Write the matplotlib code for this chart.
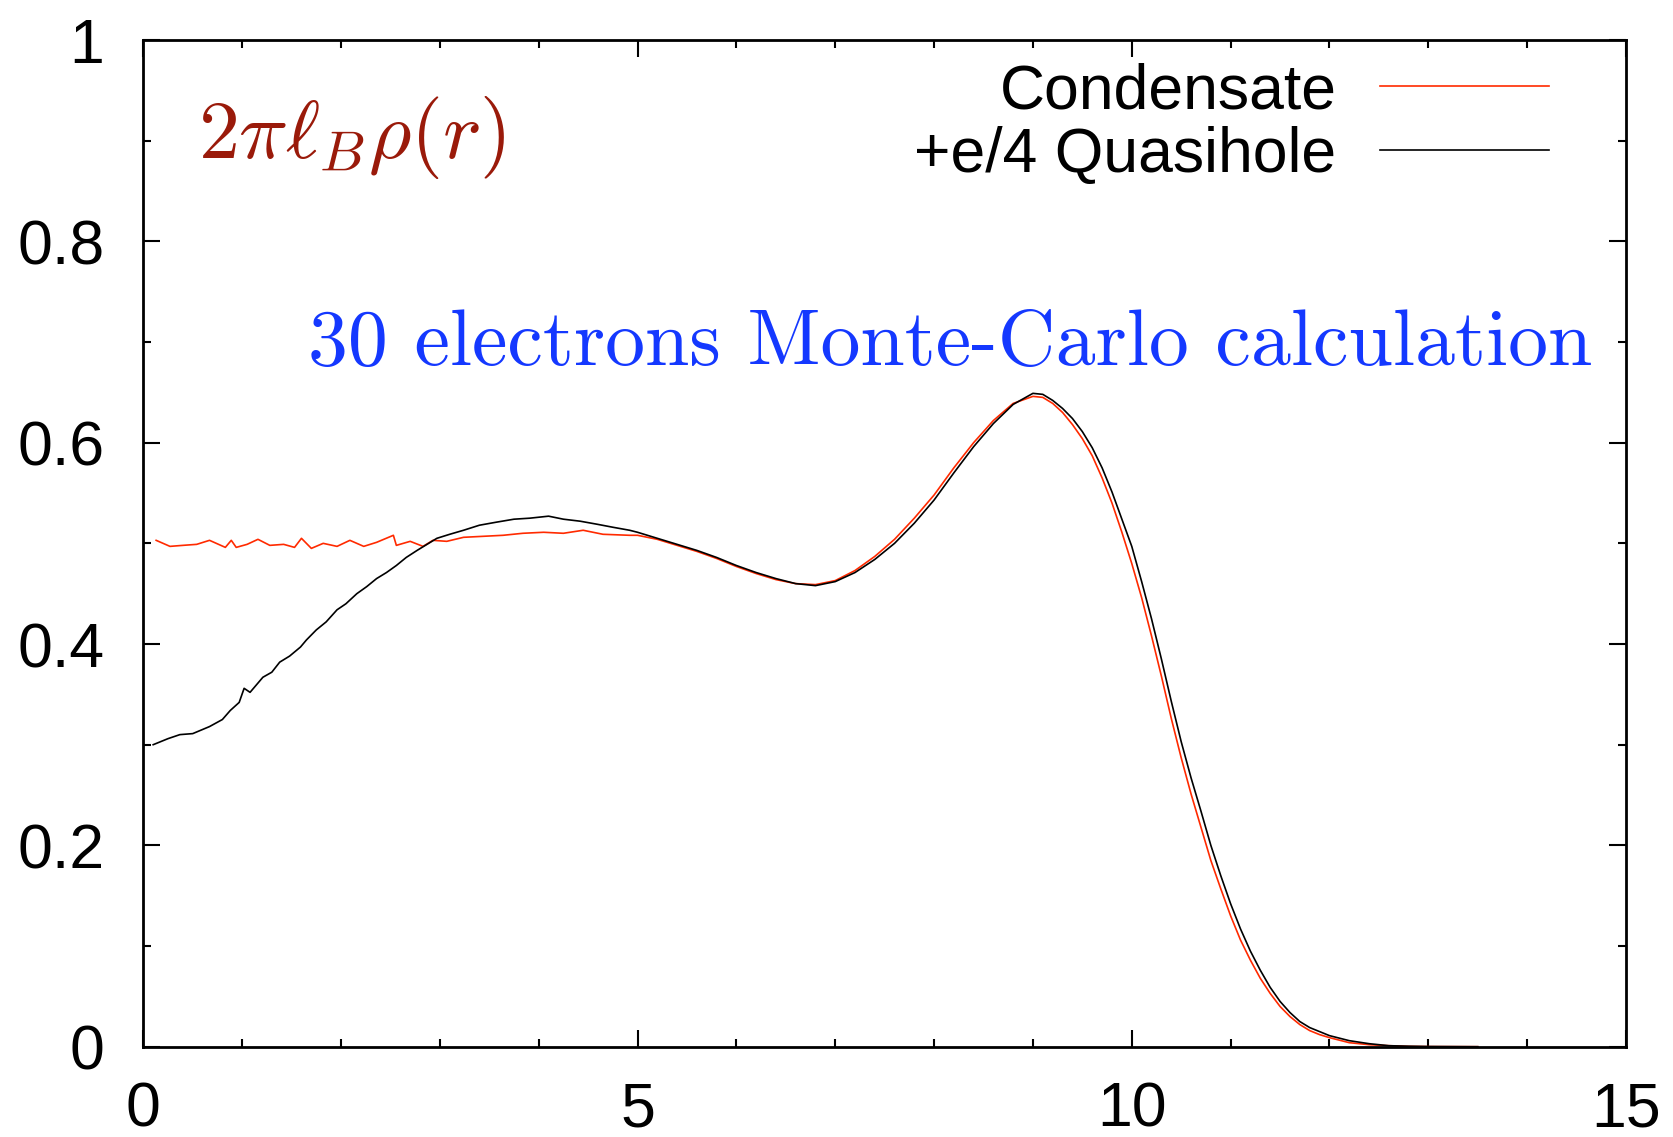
import matplotlib
matplotlib.use("Agg")
import matplotlib.pyplot as plt
from matplotlib.ticker import FixedLocator, FixedFormatter, MultipleLocator

# ---------------- data ----------------
r_cond = [0.13, 0.27, 0.40, 0.54, 0.67, 0.83, 0.89, 0.94, 1.05, 1.16, 1.28, 1.42,
          1.53, 1.60, 1.70, 1.82, 1.96, 2.09, 2.23, 2.36, 2.53, 2.56, 2.70, 2.83,
          2.93, 3.07, 3.24, 3.44, 3.64, 3.84, 4.05, 4.25, 4.45, 4.65, 4.92,
          5.0, 5.2, 5.4, 5.6, 5.8, 6.0, 6.2, 6.4, 6.6, 6.8, 7.0, 7.2, 7.4, 7.6,
          7.8, 8.0, 8.2, 8.4, 8.6, 8.8, 9.0, 9.1, 9.2, 9.3, 9.4, 9.5, 9.6, 9.7,
          9.8, 9.9, 10.0, 10.1, 10.2, 10.3, 10.4, 10.5, 10.6, 10.7, 10.8, 10.9,
          11.0, 11.1, 11.2, 11.3, 11.4, 11.5, 11.6, 11.7, 11.8, 11.9, 12.0, 12.2,
          12.4, 12.6, 12.8, 13.0, 13.5]
rho_cond = [0.503, 0.497, 0.498, 0.499, 0.503, 0.496, 0.503, 0.496, 0.499, 0.504,
            0.498, 0.499, 0.496, 0.505, 0.495, 0.500, 0.497, 0.503, 0.497, 0.501,
            0.508, 0.498, 0.502, 0.497, 0.503, 0.502, 0.506, 0.507, 0.508, 0.510,
            0.511, 0.510, 0.513, 0.509, 0.508,
            0.508, 0.504, 0.498, 0.492, 0.485, 0.477, 0.470, 0.464, 0.460, 0.459,
            0.463, 0.473, 0.487, 0.504, 0.525, 0.548, 0.575, 0.600, 0.622, 0.639,
            0.646, 0.645, 0.639, 0.630, 0.618, 0.604, 0.587, 0.565, 0.540, 0.511,
            0.480, 0.446, 0.408, 0.368, 0.326, 0.287, 0.251, 0.218, 0.185, 0.157,
            0.130, 0.106, 0.086, 0.068, 0.053, 0.040, 0.030, 0.022, 0.016, 0.012,
            0.009, 0.004, 0.002, 0.001, 0.0003, 0.0001, 0.0]

r_qh = [0.10, 0.25, 0.37, 0.50, 0.67, 0.80, 0.88, 0.97, 1.02, 1.08, 1.21, 1.30,
        1.38, 1.48, 1.59, 1.65, 1.75, 1.85, 1.96, 2.05, 2.16, 2.26, 2.36, 2.46,
        2.56, 2.66, 2.77, 2.87, 2.97, 3.10, 3.24, 3.40, 3.57, 3.75, 3.91, 4.10,
        4.25, 4.42, 4.59, 4.75, 4.92,
        5.0, 5.2, 5.4, 5.6, 5.8, 6.0, 6.2, 6.4, 6.6, 6.8, 7.0, 7.2, 7.4, 7.6,
        7.8, 8.0, 8.2, 8.4, 8.6, 8.8, 9.0, 9.1, 9.2, 9.3, 9.4, 9.5, 9.6, 9.7,
        9.8, 9.9, 10.0, 10.1, 10.2, 10.3, 10.4, 10.5, 10.6, 10.7, 10.8, 10.9,
        11.0, 11.1, 11.2, 11.3, 11.4, 11.5, 11.6, 11.7, 11.8, 11.9, 12.0, 12.2,
        12.4, 12.6, 12.8, 13.0, 13.5]
rho_qh = [0.300, 0.306, 0.310, 0.311, 0.318, 0.325, 0.334, 0.342, 0.356, 0.352,
          0.367, 0.372, 0.382, 0.388, 0.397, 0.404, 0.414, 0.422, 0.434, 0.440,
          0.450, 0.457, 0.465, 0.471, 0.478, 0.486, 0.493, 0.499, 0.505, 0.509,
          0.513, 0.518, 0.521, 0.524, 0.525, 0.527, 0.524, 0.522, 0.519, 0.516,
          0.513,
          0.511, 0.505, 0.499, 0.493, 0.486, 0.478, 0.471, 0.465, 0.460, 0.458,
          0.462, 0.471, 0.484, 0.500, 0.520, 0.543, 0.570, 0.596, 0.619, 0.638,
          0.649, 0.648, 0.642, 0.634, 0.624, 0.611, 0.595, 0.575, 0.551, 0.524,
          0.497, 0.462, 0.425, 0.385, 0.343, 0.303, 0.267, 0.234, 0.200, 0.170,
          0.142, 0.117, 0.095, 0.076, 0.059, 0.045, 0.034, 0.025, 0.019, 0.015,
          0.011, 0.006, 0.003, 0.001, 0.0005, 0.0002, 0.0]

labels = ["Condensate", "+e/4 Quasihole"]
x_ticks = [0, 5, 10, 15]
x_ticklabels = ["0", "5", "10", "15"]
y_ticks = [0, 0.2, 0.4, 0.6, 0.8, 1.0]
y_ticklabels = ["0", "0.2", "0.4", "0.6", "0.8", "1"]
ylabel_text = r"$2\pi\ell_B\rho(r)$"
note_text = "30 electrons Monte-Carlo calculation"

# ---------------- figure ----------------
plt.rcParams["font.family"] = ["Liberation Sans", "DejaVu Sans"]
plt.rcParams["mathtext.fontset"] = "cm"

W, H = 1673, 1137
fig = plt.figure(figsize=(W / 100, H / 100), dpi=100)
ax = fig.add_axes([143.3 / W, 1 - 1046.7 / H, (1626 - 143.3) / W, 1006.7 / H])

ax.plot(r_cond, rho_cond, color="#ff2a00", lw=1.2, label=labels[0])
ax.plot(r_qh, rho_qh, color="black", lw=1.2, label=labels[1])

ax.set_xlim(0, 15)
ax.set_ylim(0, 1)

ax.xaxis.set_major_locator(FixedLocator(x_ticks))
ax.xaxis.set_major_formatter(FixedFormatter(x_ticklabels))
ax.yaxis.set_major_locator(FixedLocator(y_ticks))
ax.yaxis.set_major_formatter(FixedFormatter(y_ticklabels))
ax.xaxis.set_minor_locator(MultipleLocator(1))
ax.yaxis.set_minor_locator(MultipleLocator(0.1))

ax.tick_params(which="both", direction="in", top=True, right=True, width=1.5)
ax.tick_params(which="major", length=12, labelsize=45)
ax.tick_params(axis="y", which="major", pad=28)
ax.tick_params(axis="x", which="major", pad=24)
ax.tick_params(which="minor", length=6)
for s in ax.spines.values():
    s.set_linewidth(2)

ax.text(0.037, 0.8825, ylabel_text, transform=ax.transAxes, color="#9a1a0a",
        fontsize=59, ha="left", va="baseline")
ax.text(0.111, 0.677, note_text, transform=ax.transAxes, color="#1438ff",
        fontsize=57.5, family="cmr10", ha="left", va="baseline")

leg = ax.legend(loc="upper right", bbox_to_anchor=(0.948, 0.978), frameon=False,
                markerfirst=False, fontsize=45, handlelength=2.7,
                handletextpad=0.7, labelspacing=0.08, borderpad=0,
                borderaxespad=0)

fig.savefig("out.png", dpi=100)
